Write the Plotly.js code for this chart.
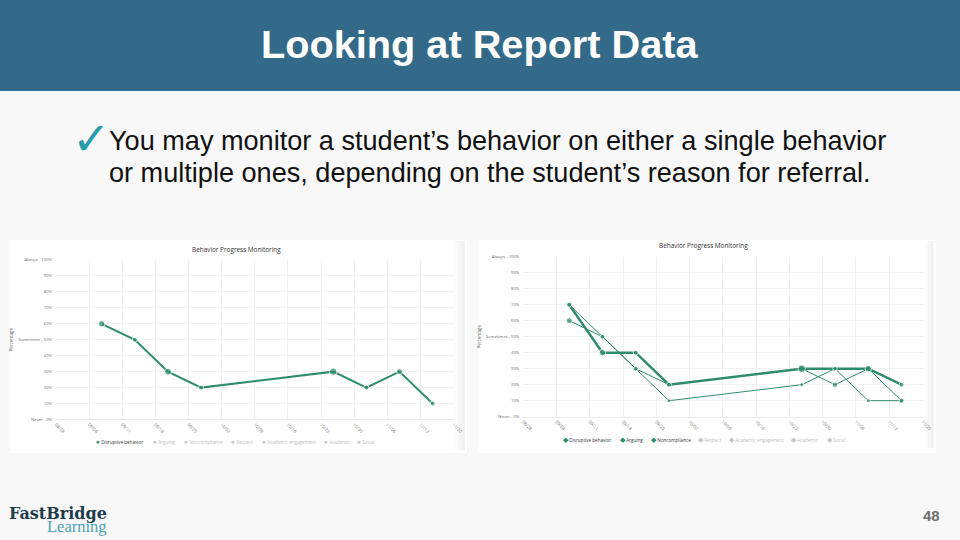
<!DOCTYPE html>
<html><head><meta charset="utf-8">
<script src="https://cdn.plot.ly/plotly-3.0.1.min.js"></script>
<style>html,body{margin:0;padding:0;background:#f8f8f8}#c{width:960px;height:540px}</style>
</head><body><div id="c"></div>
<script>
const dateTicks = ['08/28','09/04','09/11','09/18','09/25','10/02','10/09','10/16','10/23','10/30','11/06','11/13','11/20'];
const yTickVals = [0,10,20,30,40,50,60,70,80,90,100];
const yTickText = ['Never - 0%','10%','20%','30%','40%','Sometimes - 50%','60%','70%','80%','90%','Always - 100%'];
const obsPositions = [1.38,2.38,3.38,4.38,8.37,9.37,10.37,11.37];
const leftDisruptive = [60,50,30,20,30,20,30,10];
const rightDisruptive = [60,50,30,20,30,20,30,10];
const rightArguing = [70,50,30,10,20,30,10,10];
const rightNoncompliance = [70,40,40,20,30,30,30,20];
const legendNames = ['Disruptive behavior','Arguing','Noncompliance','Respect','Academic engagement','Academic','Social'];

const GREEN='#2e8b6e', GRID='#e9ecec', TICK='#6a6a6a';
const W=960,H=540;
const px=(a,b)=>[a/W,b/W], py=(t,b)=>[1-b/H,1-t/H];

function axes(xd,yd,ax){
  return {
    ['xaxis'+ax]:{domain:xd,anchor:'y'+ax,range:[0,12],tickmode:'array',tickvals:dateTicks.map((_,i)=>i),ticktext:dateTicks,
      tickangle:45,tickfont:{size:4.5,color:'#777',family:'Open Sans'},showgrid:true,gridcolor:GRID,gridwidth:0.7,zeroline:false,
      showline:true,linecolor:'#dfe3e3',linewidth:0.7,ticks:'',ticklen:0,automargin:false},
    ['yaxis'+ax]:{domain:yd,anchor:'x'+ax,range:[0,100],tickmode:'array',tickvals:yTickVals,ticktext:yTickText,
      tickfont:{size:4.2,color:TICK,family:'Open Sans'},showgrid:true,gridcolor:GRID,gridwidth:0.7,zeroline:false,
      showline:false,ticks:'',automargin:false,ticklabelstandoff:3,
      title:{text:'Percentage',font:{size:4.5,color:'#666',family:'Open Sans'},standoff:4}}
  };
}
const line=(name,y,ax,width,sizes)=>({type:'scatter',mode:'lines+markers',name,x:obsPositions,y,xaxis:'x'+ax,yaxis:'y'+ax,
  line:{color:GREEN,width},marker:{color:GREEN,size:sizes,symbol:'circle'},showlegend:false,hoverinfo:'skip',cliponaxis:false});

const traces=[
  line('Disruptive behavior',leftDisruptive,'',2,[6.5,5,7,5,7.5,5,6,5]),
  line('Disruptive behavior',rightDisruptive,'2',1,[6,5,5.5,4.5,6.5,5.5,5.5,4.5]),
  line('Arguing',rightArguing,'2',1,[5,4.5,4.5,4,4,5,4,5]),
  line('Noncompliance',rightNoncompliance,'2',2.4,[5,6.5,5,5,7.5,4.5,6.5,5])
];

function legendAnns(xs,y,activeCount,sym){
  return legendNames.map((n,i)=>{
    const on=i<activeCount;
    const mc=on?GREEN:'#c4c8c8', tc=on?'#333':'#bcc0c0';
    return {xref:'paper',yref:'paper',x:xs[i]/W,y:1-y/H,xanchor:'left',yanchor:'middle',showarrow:false,
      text:`<span style="color:${mc};font-size:6.5px">${sym}</span> <span style="color:${tc}">${n}</span>`,
      font:{size:4.6,family:'Open Sans'}};
  });
}
const txt=(x,y,text,size,color,family,xa,extra)=>Object.assign({xref:'paper',yref:'paper',x:x/W,y:1-y/H,text,showarrow:false,
  xanchor:xa||'left',yanchor:'middle',font:{size,color,family}},extra||{});

const rect=(x0,y0,x1,y1,fill)=>({type:'rect',xref:'paper',yref:'paper',x0:x0/W,x1:x1/W,y0:1-y0/H,y1:1-y1/H,fillcolor:fill,line:{width:0},layer:'below'});
const shadow=(x,b)=>[0,1,2,3,4].map(i=>rect(x+i*2,241,x+(i+1)*2,b,['#fcfcfc','#f9f9f9','#f6f6f6','#f3f3f3','#f0f0f0'][i]));

const layout=Object.assign({
  width:W,height:H,margin:{l:0,r:0,t:0,b:0},paper_bgcolor:'#f8f8f8',plot_bgcolor:'rgba(0,0,0,0)',showlegend:false,
  font:{family:'Liberation Sans'},
  shapes:[rect(0,0,960,91,'#336a8a'),rect(10.5,240,467,453,'#ffffff'),...shadow(455,450),rect(478,240,936,453,'#ffffff'),...shadow(923.5,448)],
  annotations:[
    txt(480,44,'<b>Looking at Report Data</b>',39.7,'#ffffff','Liberation Sans','center'),
    txt(91,139,'<b>✓</b>',46,'#2a9bab','DejaVu Sans','center'),
    txt(107,141,'You may monitor a student’s behavior on either a single behavior',27.1,'#111','Liberation Sans'),
    txt(107,172,'or multiple ones, depending on the student’s reason for referral.',27.1,'#111','Liberation Sans'),
    txt(236,249.5,'Behavior Progress Monitoring',6.4,'#333','Open Sans','center'),
    txt(703,246,'Behavior Progress Monitoring',6.4,'#333','Open Sans','center'),
    ...legendAnns([94,151,182,229,260,322,355],441,1,'●'),
    ...legendAnns([561,618,649,696,727,789,825],439,3,'◆'),
    txt(7,513,'<b>FastBridge</b>',16,'#1d3c4c','DejaVu Serif'),
    txt(45,526,'Learning',16.5,'#4ba3b3','Liberation Serif'),
    txt(931,515,'<b>48</b>',15,'#6e6e6e','Liberation Sans','center')
  ]
},axes(px(56,453.5),py(260,419.5),''),axes(px(523.3,922.5),py(256.7,416.7),'2'));

Plotly.newPlot('c',traces,layout,{staticPlot:true,displayModeBar:false});
</script></body></html>
